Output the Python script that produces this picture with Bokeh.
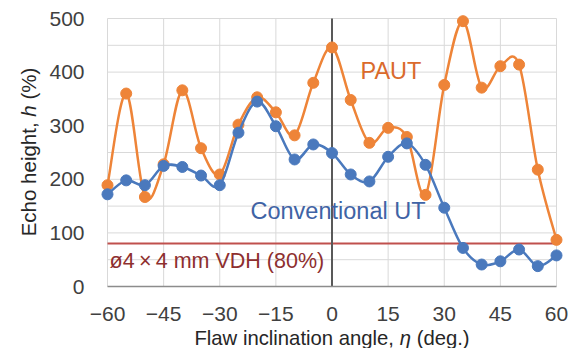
import math

from bokeh.embed import file_html
from bokeh.resources import INLINE
from bokeh.layouts import column, row
from bokeh.plotting import figure
from bokeh.models import ColumnDataSource, Range1d, FixedTicker, Label

# ---- data -------------------------------------------------------------
angles = [-60, -55, -50, -45, -40, -35, -30, -25, -20, -15, -10, -5, 0,
          5, 10, 15, 20, 25, 30, 35, 40, 45, 50, 55, 60]
paut = [189, 360, 167, 228, 366, 258, 209, 302, 353, 325, 282, 380, 446,
        348, 268, 296, 279, 171, 376, 495, 371, 411, 414, 218, 87]
conventional_ut = [172, 198, 189, 225, 223, 207, 189, 287, 345, 299, 237, 265, 249,
                   209, 196, 242, 267, 227, 147, 72, 41, 47, 69, 38, 58]
reference_level = 80

x_ticks = [-60, -45, -30, -15, 0, 15, 30, 45, 60]
x_tick_labels = ["\u221260", "\u221245", "\u221230", "\u221215", "0", "15", "30", "45", "60"]
y_ticks = [0, 100, 200, 300, 400, 500]
y_tick_labels = ["0", "100", "200", "300", "400", "500"]
y_grid = [0, 50, 100, 150, 200, 250, 300, 350, 400, 450, 500]

# ---- layout constants (pixels) ----------------------------------------
W, H = 570, 348
YT_W = 46            # strip holding the rotated y title
XT_H = 21            # strip holding the x title
MAIN_W, MAIN_H = W - YT_W, H - XT_H
X_LO, X_HI, Y_LO, Y_HI = -60, 60, 0, 500
PLOT_L, PLOT_R, PLOT_T, PLOT_B = 107, 556, 18, 286   # page pixels of the data box
PAD = 8                                              # room so edge markers are not cut
FONT = "Liberation Sans"
TITLE_COLOR = "#262626"
TICK_COLOR = "#404040"

ORANGE = "#EE8438"
BLUE = "#4A79BD"

ux = (X_HI - X_LO) / (PLOT_R - PLOT_L)     # data units per pixel
uy = (Y_HI - Y_LO) / (PLOT_B - PLOT_T)


def smooth_segments(xs, ys):
    """Cubic Bezier segments through the points (Catmull-Rom style smoothing)."""
    cols = {k: [] for k in ("x0", "y0", "x1", "y1", "cx0", "cy0", "cx1", "cy1")}
    n = len(xs)
    for i in range(n - 1):
        xp, yp = (xs[i - 1], ys[i - 1]) if i > 0 else (xs[i], ys[i])
        xn, yn = (xs[i + 2], ys[i + 2]) if i + 2 < n else (xs[i + 1], ys[i + 1])
        cols["x0"].append(xs[i]); cols["y0"].append(ys[i])
        cols["x1"].append(xs[i + 1]); cols["y1"].append(ys[i + 1])
        cols["cx0"].append(xs[i] + (xs[i + 1] - xp) / 6)
        cols["cy0"].append(ys[i] + (ys[i + 1] - yp) / 6)
        cols["cx1"].append(xs[i + 1] - (xn - xs[i]) / 6)
        cols["cy1"].append(ys[i + 1] - (yn - ys[i]) / 6)
    return ColumnDataSource(cols)


# ---- main chart --------------------------------------------------------
p = figure(width=MAIN_W, height=MAIN_H, output_backend="svg", toolbar_location=None,
           x_range=Range1d(X_LO - PAD * ux, X_HI + PAD * ux),
           y_range=Range1d(Y_LO, Y_HI + PAD * uy),
           min_border_left=PLOT_L - PAD - YT_W, min_border_right=W - PLOT_R - PAD,
           min_border_top=PLOT_T - PAD, min_border_bottom=MAIN_H - PLOT_B)
p.frame_align = False
p.outline_line_color = None
p.xgrid.visible = False
p.ygrid.visible = False

# axes
p.xaxis.ticker = FixedTicker(ticks=x_ticks)
p.xaxis.major_label_overrides = dict(zip(x_ticks, x_tick_labels))
p.xaxis.bounds = (X_LO, X_HI)
p.yaxis.ticker = FixedTicker(ticks=y_ticks)
p.yaxis.major_label_overrides = dict(zip(y_ticks, y_tick_labels))
p.yaxis.bounds = (Y_LO, Y_HI)
for ax in (p.xaxis, p.yaxis):
    ax.major_tick_line_color = None
    ax.minor_tick_line_color = None
    ax.major_label_text_font = FONT
    ax.major_label_text_font_size = "21px"
    ax.major_label_text_color = TICK_COLOR
p.yaxis.axis_line_color = None
p.yaxis.major_label_standoff = 9
p.xaxis.axis_line_color = "#8C8C8C"
p.xaxis.axis_line_width = 1.5
p.xaxis.major_label_standoff = 14

# grid lines limited to the data box
p.segment(x0=[X_LO] * len(y_grid), x1=[X_HI] * len(y_grid), y0=y_grid, y1=y_grid,
          line_color="#D9D9D9", line_width=1)
p.segment(x0=x_ticks, x1=x_ticks, y0=[Y_LO] * len(x_ticks), y1=[Y_HI] * len(x_ticks),
          line_color="#D9D9D9", line_width=1)

# reference level and zero-angle line
p.segment(x0=[X_LO], x1=[X_HI], y0=[reference_level], y1=[reference_level],
          line_color="#C0504D", line_width=2)
p.segment(x0=[0], x1=[0], y0=[Y_LO], y1=[Y_HI], line_color="#595959", line_width=2)

# series: smoothed lines with markers
p.bezier(x0="x0", y0="y0", x1="x1", y1="y1", cx0="cx0", cy0="cy0",
         cx1="cx1", cy1="cy1", source=smooth_segments(angles, paut),
         line_color=ORANGE, line_width=2.5, line_cap="round")
p.scatter(angles, paut, size=11, fill_color=ORANGE, line_color=ORANGE)
p.bezier(x0="x0", y0="y0", x1="x1", y1="y1", cx0="cx0", cy0="cy0",
         cx1="cx1", cy1="cy1", source=smooth_segments(angles, conventional_ut),
         line_color=BLUE, line_width=2.5, line_cap="round")
p.scatter(angles, conventional_ut, size=11, fill_color=BLUE, line_color=BLUE)


def px_x(px):
    return X_LO + (px - PLOT_L) * ux


def px_y(py):
    return Y_LO + (PLOT_B - py) * uy


# in-plot labels (vertically centred on their capitals)
p.add_layout(Label(x=px_x(360), y=px_y(70), text="PAUT", text_font=FONT,
                   text_font_size="23.5px", text_color="#DA6A2C",
                   text_baseline="middle"))
p.add_layout(Label(x=px_x(250), y=px_y(210), text="Conventional UT", text_font=FONT,
                   text_font_size="23.5px", text_color="#3F63A5",
                   text_baseline="middle"))
p.add_layout(Label(x=px_x(109), y=px_y(260), text="\u00f84\u2009\u00d7\u20094 mm VDH (80%)",
                   text_font=FONT, text_font_size="21.5px", text_color="#8E2F2F",
                   text_baseline="middle"))


def title_strip(w, h):
    f = figure(width=w, height=h, output_backend="svg", toolbar_location=None,
               x_range=Range1d(0, w), y_range=Range1d(h, 0),
               x_axis_type=None, y_axis_type=None, min_border=0)
    f.frame_align = False
    f.outline_line_color = None
    return f


SPACE_EM = 0.278


def piece_centres(pieces, size, mid):
    """Centre of each text run so that the whole title is centred on mid."""
    total = sum(em for _, _, em in pieces) + SPACE_EM * (len(pieces) - 1)
    pos = mid - total * size / 2
    out = []
    for _, _, em in pieces:
        out.append(pos + em * size / 2)
        pos += (em + SPACE_EM) * size
    return out


# ---- y title: "Echo height, h (%)" with italic h ----------------------
YT = 20.5
yt = title_strip(YT_W, MAIN_H)
y_pieces = [("Echo height,", "normal", 5.559), ("h", "italic", 0.556), ("(%)", "normal", 1.555)]
# runs stack bottom-to-top around page y 151.5
for (txt, style, _), c in zip(y_pieces, piece_centres(y_pieces, YT, 0)):
    yt.add_layout(Label(x=27.5, y=151.5 - c, text=txt, angle=math.pi / 2, text_font=FONT,
                        text_font_style=style, text_font_size=f"{YT}px",
                        text_color=TITLE_COLOR, text_align="center",
                        text_baseline="middle"))

# ---- x title: "Flaw inclination angle, η (deg.)" with italic η --------
XT = 20.3
xt = title_strip(W, XT_H)
x_pieces = [("Flaw inclination angle,", "normal", 9.837), ("\u03b7", "italic", 0.556),
            ("(deg.)", "normal", 2.612)]
for (txt, style, _), c in zip(x_pieces, piece_centres(x_pieces, XT, (PLOT_L + PLOT_R) / 2)):
    xt.add_layout(Label(x=c, y=337 - MAIN_H, text=txt, text_font=FONT,
                        text_font_style=style, text_font_size=f"{XT}px",
                        text_color=TITLE_COLOR, text_align="center",
                        text_baseline="middle"))

layout = column(row(yt, p, spacing=0), xt, spacing=0)
open("out.html", "w").write(file_html(layout, INLINE))
